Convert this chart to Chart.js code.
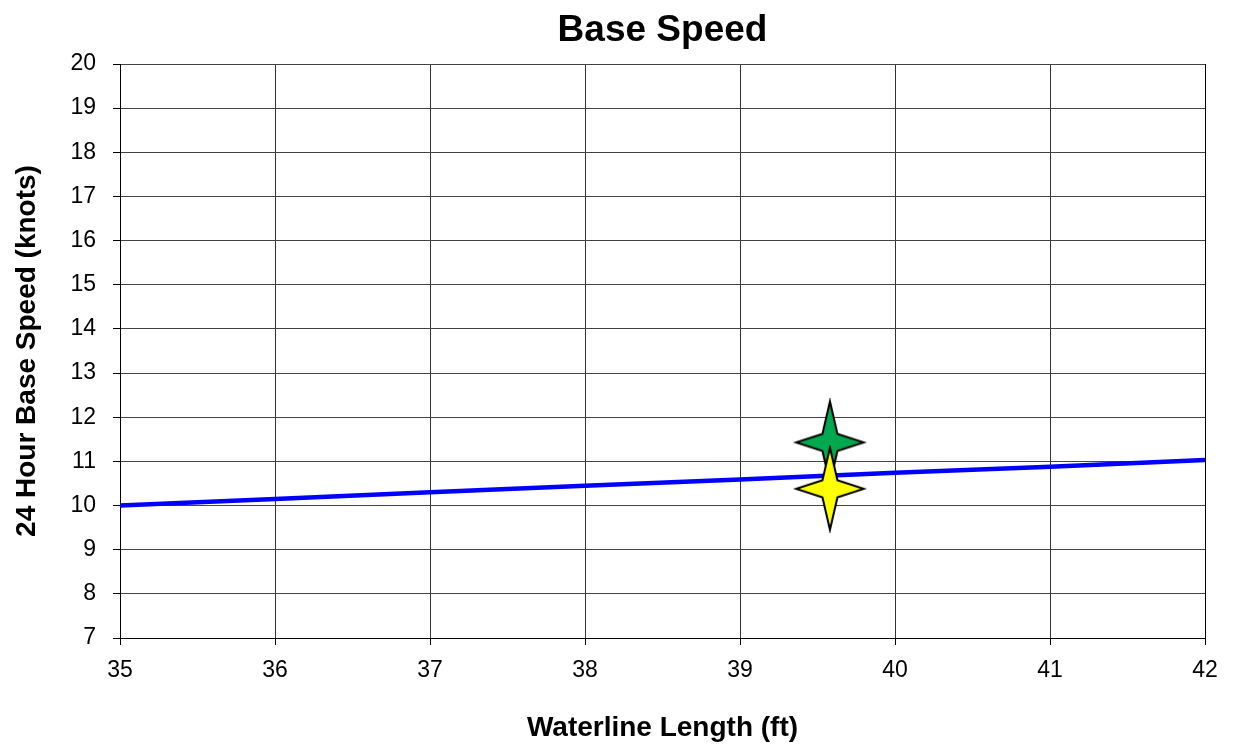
<!DOCTYPE html>
<html>
<head>
<meta charset="utf-8">
<title>Base Speed</title>
<script src="https://cdn.jsdelivr.net/npm/chart.js@4/dist/chart.umd.min.js"></script>
<style>
  html, body { margin: 0; padding: 0; background: #fff; }
  #wrap { width: 1233px; height: 750px; }
</style>
</head>
<body>
<div id="wrap"><canvas id="speedChart" width="1233" height="750"></canvas></div>
<script>
// waterline length (ft) vs 24h base speed (knots)
const lengths = [35, 36, 37, 38, 39, 40, 41, 42];
const baseSpeed = [10.0, 10.15, 10.3, 10.45, 10.59, 10.74, 10.88, 11.03];

// the two boats, same waterline length
const boatLength = [39.58];
const greenSpeed = [11.43];
const yellowSpeed = [10.38];

const xTicks = [35, 36, 37, 38, 39, 40, 41, 42];
const yTicks = [7, 8, 9, 10, 11, 12, 13, 14, 15, 16, 17, 18, 19, 20];

const FONT = "'Liberation Sans', Arial, sans-serif";

// 4 point star marker, drawn once to a canvas
function makeStar(fill) {
  const w = 74, h = 88;
  const c = document.createElement("canvas");
  c.width = w;
  c.height = h;
  const ctx = c.getContext("2d");
  const cx = w / 2, cy = h / 2;
  const rx = 34, ry = 41, ix = 7.5, iy = 8.5;
  ctx.beginPath();
  ctx.moveTo(cx, cy - ry);
  ctx.lineTo(cx + ix, cy - iy);
  ctx.lineTo(cx + rx, cy);
  ctx.lineTo(cx + ix, cy + iy);
  ctx.lineTo(cx, cy + ry);
  ctx.lineTo(cx - ix, cy + iy);
  ctx.lineTo(cx - rx, cy);
  ctx.lineTo(cx - ix, cy - iy);
  ctx.closePath();
  ctx.fillStyle = fill;
  ctx.fill();
  ctx.lineWidth = 2;
  ctx.strokeStyle = "#000";
  ctx.lineJoin = "miter";
  ctx.stroke();
  return c;
}

function toPoints(xs, ys) {
  return ys.map((y, i) => ({ x: xs[i], y: y }));
}

function initChart() {
  const ctx = document.getElementById("speedChart");

  new Chart(ctx, {
    type: "scatter",
    data: {
      datasets: [
        {
          label: "Yellow",
          data: toPoints(boatLength, yellowSpeed),
          pointStyle: makeStar("#FFFF00"),
        },
        {
          label: "Green",
          data: toPoints(boatLength, greenSpeed),
          pointStyle: makeStar("#00A84F"),
        },
        {
          label: "Base speed",
          data: toPoints(lengths, baseSpeed),
          showLine: true,
          borderColor: "#0000FF",
          borderWidth: 4.5,
          pointRadius: 0,
          tension: 0,
        },
      ],
    },
    options: {
      responsive: false,
      animation: false,
      layout: { padding: { left: 0, right: 28, top: 0, bottom: 0 } },
      plugins: {
        legend: { display: false },
        tooltip: { enabled: false },
        title: {
          display: true,
          fullSize: false,
          text: "Base Speed",
          color: "#000",
          font: { family: FONT, size: 37, weight: "bold", lineHeight: 1.2 },
          padding: { top: 9, bottom: 10.6 },
        },
      },
      scales: {
        x: {
          type: "linear",
          min: 35,
          max: 42,
          afterBuildTicks: (s) => { s.ticks = xTicks.map((v) => ({ value: v })); },
          afterFit: (s) => { s.height = 112; },
          ticks: {
            color: "#000",
            padding: 12,
            font: { family: FONT, size: 23 },
          },
          grid: {
            color: (c) => (c.index === 0 || c.index === xTicks.length - 1 ? "#000" : "#333"),
            lineWidth: 1,
            tickLength: 7,
            tickColor: "#000",
          },
          border: { color: "#000", width: 1 },
          title: {
            display: true,
            text: "Waterline Length (ft)",
            color: "#000",
            font: { family: FONT, size: 28, weight: "bold", lineHeight: 1.2 },
            padding: { top: 0, bottom: 5 },
          },
        },
        y: {
          type: "linear",
          min: 7,
          max: 20,
          afterBuildTicks: (s) => { s.ticks = yTicks.map((v) => ({ value: v })); },
          afterFit: (s) => { s.width = 120; },
          ticks: {
            color: "#000",
            padding: 17,
            font: { family: FONT, size: 23 },
          },
          grid: {
            color: (c) => (c.index === 0 ? "#000" : "#444"),
            lineWidth: 1,
            tickLength: 7,
            tickColor: "#000",
          },
          border: { color: "#000", width: 1 },
          title: {
            display: true,
            text: "24 Hour Base Speed (knots)",
            color: "#000",
            font: { family: FONT, size: 28, weight: "bold", lineHeight: 1.2 },
            padding: { top: 10, bottom: 0 },
          },
        },
      },
    },
  });
}

document.addEventListener("DOMContentLoaded", () => {
  initChart();
});
</script>
</body>
</html>
